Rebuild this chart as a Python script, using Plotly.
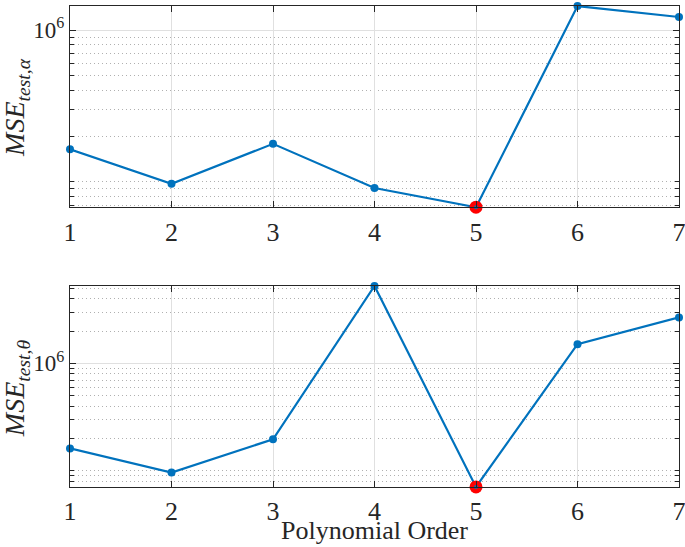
import numpy as np
import plotly.graph_objects as go

# ---- data ----
orders = [1, 2, 3, 4, 5, 6, 7]
mse_alpha = [1.64e5, 9.7e4, 1.78e5, 9.1e4, 6.8e4, 1.44e6, 1.22e6]
mse_theta = [1.62e5, 9.67e4, 1.97e5, 5.25e6, 7.1e4, 1.51e6, 2.68e6]
xtick_vals = [1, 2, 3, 4, 5, 6, 7]
ytick_vals = [1e6]
ytick_text = ["10<sup>6</sup>"]
ylabels = ["<i>MSE</i><sub><i>test,α</i></sub>", "<i>MSE</i><sub><i>test,θ</i></sub>"]
xlabel = "Polynomial Order"

BLUE = "#0072BD"
AX = "#262626"
FONT = "Liberation Serif"

minor_vals = [m * 10.0 ** e for e in range(3, 8) for m in range(1, 10) if not (m == 1 and e == 6)]

fig = go.Figure()
series = [mse_alpha, mse_theta]
domains = [[0.5815, 1.0], [0.0, 0.418]]

for i, ys in enumerate(series):
    xa = "x" if i == 0 else "x2"
    ya = "y" if i == 0 else "y2"
    fig.add_trace(go.Scatter(x=orders, y=ys, mode="lines+markers",
                             line=dict(color=BLUE, width=2.2),
                             marker=dict(color=BLUE, size=8, symbol="circle"),
                             xaxis=xa, yaxis=ya, showlegend=False, cliponaxis=False,
                             hoverinfo="skip"))
    imin = int(np.argmin(ys))
    fig.add_trace(go.Scatter(x=[orders[imin]], y=[ys[imin]], mode="markers",
                             marker=dict(color="red", size=13, symbol="circle"),
                             xaxis=xa, yaxis=ya, showlegend=False, cliponaxis=False,
                             hoverinfo="skip"))
    fig.add_trace(go.Scatter(x=[orders[imin]], y=[ys[imin]], mode="markers",
                             marker=dict(color=BLUE, size=4, symbol="circle"),
                             xaxis=xa, yaxis=ya, showlegend=False, cliponaxis=False,
                             hoverinfo="skip"))

    lo, hi = np.log10(min(ys)) - 0.0005, np.log10(max(ys)) + 0.0005
    xkey = "xaxis" if i == 0 else "xaxis2"
    ykey = "yaxis" if i == 0 else "yaxis2"
    fig.update_layout(**{
        xkey: dict(domain=[0, 1], anchor=ya, range=[1, 7], tickvals=xtick_vals,
                   ticks="inside", ticklen=6, tickcolor=AX, showline=True,
                   linecolor=AX, linewidth=1.2, mirror="ticks", showgrid=True,
                   gridcolor="#e0e0e0", gridwidth=1, zeroline=False,
                   tickfont=dict(family=FONT, size=26, color=AX),
                   ticklabelstandoff=1, ticklabeloverflow="allow", automargin=False),
        ykey: dict(domain=domains[i], anchor=xa, type="log", range=[lo, hi],
                   tickvals=ytick_vals, ticktext=ytick_text, ticks="inside",
                   ticklen=6, tickcolor=AX, showline=True, linecolor=AX,
                   linewidth=1.2, mirror="allticks", showgrid=True,
                   gridcolor="#e0e0e0", gridwidth=1, zeroline=False,
                   tickfont=dict(family=FONT, size=23, color=AX),
                   ticklabeloverflow="allow", automargin=False,
                   minor=dict(tickvals=minor_vals, ticks="inside", ticklen=4,
                              tickcolor=AX, showgrid=True, griddash="1px,3px",
                              gridcolor="#b0b0b0", gridwidth=1)),
    })
    fig.add_annotation(text=ylabels[i], xref="paper", yref=f"{ykey.replace('axis','')} domain",
                       x=-0.088, y=0.24, xanchor="center", yanchor="bottom",
                       textangle=-90, showarrow=False,
                       font=dict(family=FONT, size=28, color=AX))

fig.add_annotation(text=xlabel, xref="paper", yref="paper", x=0.5, y=-0.1247,
                   xanchor="center", yanchor="bottom", showarrow=False,
                   font=dict(family=FONT, size=26, color=AX))

fig.update_layout(width=685, height=547, margin=dict(l=70, r=6, t=6, b=60),
                  paper_bgcolor="white", plot_bgcolor="white", hovermode=False)

fig.write_html("out.html", config={"displayModeBar": False, "staticPlot": True},
               post_script="document.body.style.margin='0';")
